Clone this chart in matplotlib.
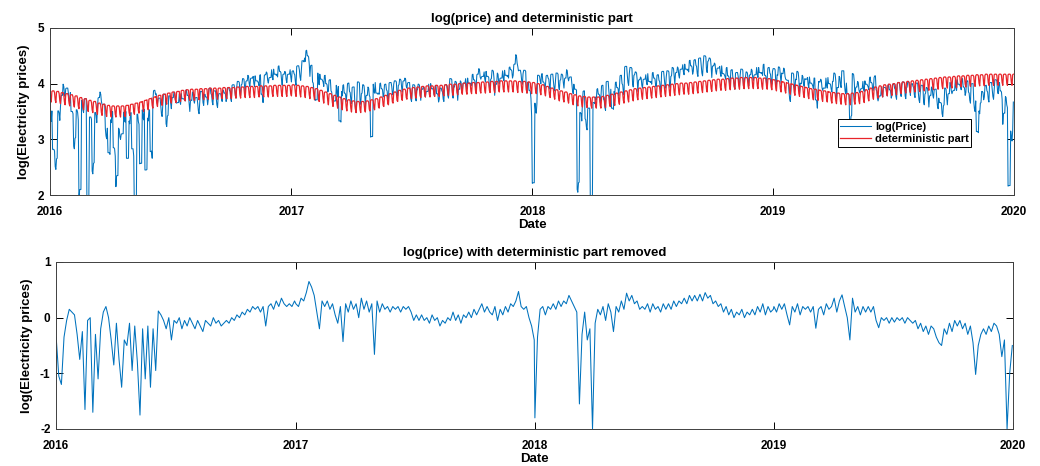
import numpy as np
import pandas as pd
import matplotlib
matplotlib.use("Agg")
import matplotlib.pyplot as plt
import matplotlib.dates as mdates

# residual (log price minus deterministic part), one value every 4 days, per year
resid_2016 = [-0.35, -1.05, -1.2, -0.35, -0.05, 0.15, 0.1, 0.05, -0.3, -0.75,
              -0.25, -1.65, -0.05, 0.0, -1.7, -0.3, -1.1, -0.2, 0.1, 0.2,
              0.0, -0.4, -0.85, -0.1, -0.75, -1.25, -0.4, -0.5, -0.1, -0.95,
              -0.15, -0.8, -1.75, -0.2, -1.1, -0.15, -1.25, -0.2, -0.95, 0.12,
              0.05, -0.05, -0.2, 0.0, -0.4, -0.05, -0.1, 0.0, -0.2, -0.05,
              -0.15, 0.0, -0.1, -0.2, -0.05, -0.15, -0.25, -0.05, -0.1, -0.15,
              0.0, -0.1, -0.05, -0.15, -0.1, -0.05, -0.1, 0.0, -0.05, 0.05,
              0.0, 0.1, 0.05, 0.15, 0.1, 0.2, 0.15, 0.2, 0.1, 0.2,
              -0.15, 0.2, 0.25, 0.15, 0.3, 0.2, 0.35, 0.25, 0.2, 0.25,
              0.2, 0.3]
resid_2017 = [0.25, 0.2, 0.35, 0.3, 0.45, 0.65, 0.55, 0.4, 0.1, -0.2,
              0.3, 0.2, 0.3, 0.15, 0.25, 0.05, -0.1, 0.2, -0.43, 0.25,
              0.1, 0.3, 0.15, 0.25, 0.0, 0.35, 0.15, 0.3, 0.1, 0.25,
              -0.66, 0.3, 0.1, 0.25, 0.15, 0.2, 0.1, 0.2, 0.15, 0.2,
              0.1, 0.2, 0.15, 0.2, 0.1, -0.05, 0.05, -0.05, 0.05, -0.05,
              0.0, -0.1, 0.05, -0.05, 0.0, -0.15, -0.05, -0.1, 0.0, -0.05,
              0.1, -0.05, 0.05, -0.1, 0.05, 0.0, 0.1, 0.0, 0.15, 0.05,
              0.15, 0.25, 0.1, 0.2, 0.1, 0.05, 0.2, -0.05, 0.15, 0.05,
              0.2, 0.1, 0.25, 0.2, 0.3, 0.47, 0.2, 0.15, 0.2, 0.0,
              -0.15, -0.4]
resid_2018 = [-1.8, -0.35, 0.15, 0.2, 0.05, 0.2, 0.15, 0.25, 0.15, 0.3,
              0.2, 0.3, 0.25, 0.4, 0.3, 0.2, 0.1, -1.55, -0.3, 0.1,
              -0.4, -0.2, -2.0, -0.1, 0.15, 0.05, 0.2, -0.05, 0.25, 0.1,
              -0.25, 0.2, 0.1, 0.3, 0.15, 0.44, 0.3, 0.4, 0.25, 0.3,
              0.15, 0.2, 0.15, 0.25, 0.1, 0.25, 0.15, 0.2, 0.1, 0.25,
              0.15, 0.25, 0.15, 0.3, 0.2, 0.3, 0.25, 0.35, 0.25, 0.4,
              0.3, 0.4, 0.3, 0.42, 0.3, 0.45, 0.35, 0.4, 0.25, 0.3,
              0.2, 0.25, 0.1, 0.2, 0.05, 0.15, 0.0, 0.1, 0.05, 0.15,
              0.0, 0.1, 0.05, 0.15, 0.05, 0.2, 0.1, 0.25, 0.05, 0.2,
              0.1, 0.15]
resid_2019 = [0.2, 0.1, 0.25, 0.15, 0.25, 0.05, -0.13, 0.2, 0.1, 0.25,
              0.05, 0.2, 0.15, 0.2, 0.1, 0.2, -0.19, 0.15, 0.2, 0.05,
              0.25, 0.15, 0.2, 0.35, 0.1, 0.3, 0.41, 0.2, 0.0, -0.4,
              0.35, 0.1, 0.2, 0.05, 0.2, 0.1, 0.2, 0.1, 0.2, -0.05,
              -0.18, 0.0, -0.05, 0.0, -0.1, 0.0, -0.08, 0.0, -0.05, 0.0,
              -0.1, 0.0, -0.05, -0.1, -0.05, -0.2, -0.1, -0.25, -0.15, -0.3,
              -0.15, -0.2, -0.35, -0.45, -0.5, -0.2, -0.3, -0.1, -0.25, -0.05,
              -0.15, -0.05, -0.2, -0.1, -0.3, -0.15, -0.45, -1.02, -0.5, -0.3,
              -0.2, -0.3, -0.15, -0.25, -0.1, -0.15, -0.3, -0.7, -0.4, -2.0,
              -1.0, -0.5]

# seasonal level of the deterministic part, one value per week of each year
trend_2016 = [3.77, 3.76, 3.74, 3.72, 3.70, 3.68, 3.65, 3.63, 3.60, 3.58,
              3.55, 3.53, 3.51, 3.50, 3.50, 3.50, 3.51, 3.53, 3.55, 3.57,
              3.60, 3.63, 3.66, 3.69, 3.71, 3.73, 3.75, 3.76, 3.78, 3.79,
              3.80, 3.80, 3.81, 3.81, 3.82, 3.82, 3.82, 3.83, 3.83, 3.83,
              3.84, 3.84, 3.85, 3.85, 3.85, 3.86, 3.86, 3.86, 3.87, 3.87,
              3.87, 3.87, 3.87]
trend_2017 = [3.88, 3.87, 3.86, 3.85, 3.83, 3.81, 3.78, 3.75, 3.72, 3.69,
              3.66, 3.63, 3.61, 3.59, 3.58, 3.58, 3.59, 3.61, 3.63, 3.66,
              3.69, 3.72, 3.75, 3.78, 3.80, 3.82, 3.83, 3.84, 3.85, 3.86,
              3.86, 3.87, 3.87, 3.88, 3.89, 3.89, 3.90, 3.91, 3.91, 3.92,
              3.92, 3.93, 3.93, 3.94, 3.94, 3.95, 3.95, 3.95, 3.95, 3.94,
              3.94, 3.93, 3.92]
trend_2018 = [3.92, 3.90, 3.88, 3.85, 3.82, 3.79, 3.77, 3.75, 3.72, 3.70,
              3.68, 3.67, 3.66, 3.66, 3.66, 3.67, 3.69, 3.71, 3.73, 3.75,
              3.77, 3.79, 3.81, 3.82, 3.83, 3.84, 3.85, 3.86, 3.87, 3.88,
              3.89, 3.90, 3.91, 3.91, 3.92, 3.93, 3.94, 3.95, 3.96, 3.97,
              3.98, 3.98, 3.99, 4.00, 4.00, 4.01, 4.01, 4.01, 4.01, 4.00,
              4.00, 3.99, 3.98]
trend_2019 = [3.97, 3.95, 3.93, 3.91, 3.89, 3.87, 3.85, 3.83, 3.81, 3.80,
              3.78, 3.77, 3.75, 3.74, 3.73, 3.72, 3.72, 3.73, 3.74, 3.76,
              3.79, 3.82, 3.84, 3.86, 3.88, 3.89, 3.90, 3.92, 3.93, 3.94,
              3.95, 3.96, 3.97, 3.98, 3.99, 4.00, 4.01, 4.02, 4.02, 4.03,
              4.04, 4.04, 4.05, 4.05, 4.06, 4.06, 4.07, 4.07, 4.07, 4.07,
              4.07, 4.07, 4.07]

# weekday effect, Monday..Sunday
weekday_effect = [0.09, 0.10, 0.10, 0.10, 0.08, -0.05, -0.10]

years = [2016, 2017, 2018, 2019]
resid = {2016: resid_2016, 2017: resid_2017, 2018: resid_2018, 2019: resid_2019}
trend = {2016: trend_2016, 2017: trend_2017, 2018: trend_2018, 2019: trend_2019}

# daily series for the top panel
days = pd.date_range("2016-01-01", "2019-12-31", freq="D")
det = np.empty(len(days))
logp = np.empty(len(days))
for k, d in enumerate(days):
    doy = d.dayofyear - 1
    det[k] = trend[d.year][doy // 7] + weekday_effect[d.dayofweek]
    logp[k] = resid[d.year][min(doy // 4, 91)] + det[k]

# residual series at its own 4-day dates for the bottom panel
r_dates = []
r_vals = []
for y in years:
    start = pd.Timestamp(f"{y}-01-01")
    for i, v in enumerate(resid[y]):
        r_dates.append(start + pd.Timedelta(days=4 * i))
        r_vals.append(v)

plt.rcParams["font.family"] = ["Liberation Sans", "DejaVu Sans"]
plt.rcParams["font.weight"] = "bold"
plt.rcParams["axes.labelweight"] = "bold"
plt.rcParams["axes.titleweight"] = "bold"
plt.rcParams["axes.unicode_minus"] = False

blue = "#0072BD"
red = "#E8242A"
edge = "#404040"

fig = plt.figure(figsize=(10.4, 4.66), dpi=100)
ax1 = fig.add_axes([0.048, 0.5815, 0.927, 0.3585])
ax2 = fig.add_axes([0.054, 0.0794, 0.920, 0.3584])

ax1.plot(days, logp, color=blue, lw=0.75, label="log(Price)")
ax1.plot(days, det, color=red, lw=0.9, label="deterministic part")
ax1.set_ylim(2, 5)
ax1.set_yticks([2, 3, 4, 5])
ax1.set_title("log(price) and deterministic part", fontsize=9.5, pad=4)
leg = ax1.legend(loc="lower left", bbox_to_anchor=(0.817, 0.29), fontsize=8,
                 frameon=True, fancybox=False, framealpha=1, borderpad=0.25,
                 labelspacing=0.15, handlelength=2.8, handletextpad=0.3,
                 borderaxespad=0)
leg.get_frame().set_edgecolor("black")
leg.get_frame().set_linewidth(0.7)

ax2.plot(r_dates, r_vals, color=blue, lw=0.75)
ax2.set_ylim(-2, 1)
ax2.set_yticks([-2, -1, 0, 1])
ax2.set_title("log(price) with deterministic part removed", fontsize=9.5, pad=4)

for ax in (ax1, ax2):
    ax.set_xlim(pd.Timestamp("2016-01-01"), pd.Timestamp("2020-01-01"))
    ax.xaxis.set_major_locator(mdates.YearLocator())
    ax.xaxis.set_major_formatter(mdates.DateFormatter("%Y"))
    ax.tick_params(direction="in", length=5, width=0.7, labelsize=8.5,
                   top=True, right=True, colors="black")
    ax.tick_params(axis="x", pad=8)
    ax.tick_params(axis="y", pad=4)
    for s in ax.spines.values():
        s.set_color(edge)
        s.set_linewidth(0.7)
    ax.set_xlabel("Date", fontsize=9.5)
    ax.set_ylabel("log(Electricity prices)", fontsize=9.5)

ax1.xaxis.set_label_coords(0.5, -0.142)
ax1.yaxis.set_label_coords(-0.021, 0.5)
ax2.xaxis.set_label_coords(0.5, -0.142)
ax2.yaxis.set_label_coords(-0.024, 0.5)

fig.savefig("out.png", dpi=100)
